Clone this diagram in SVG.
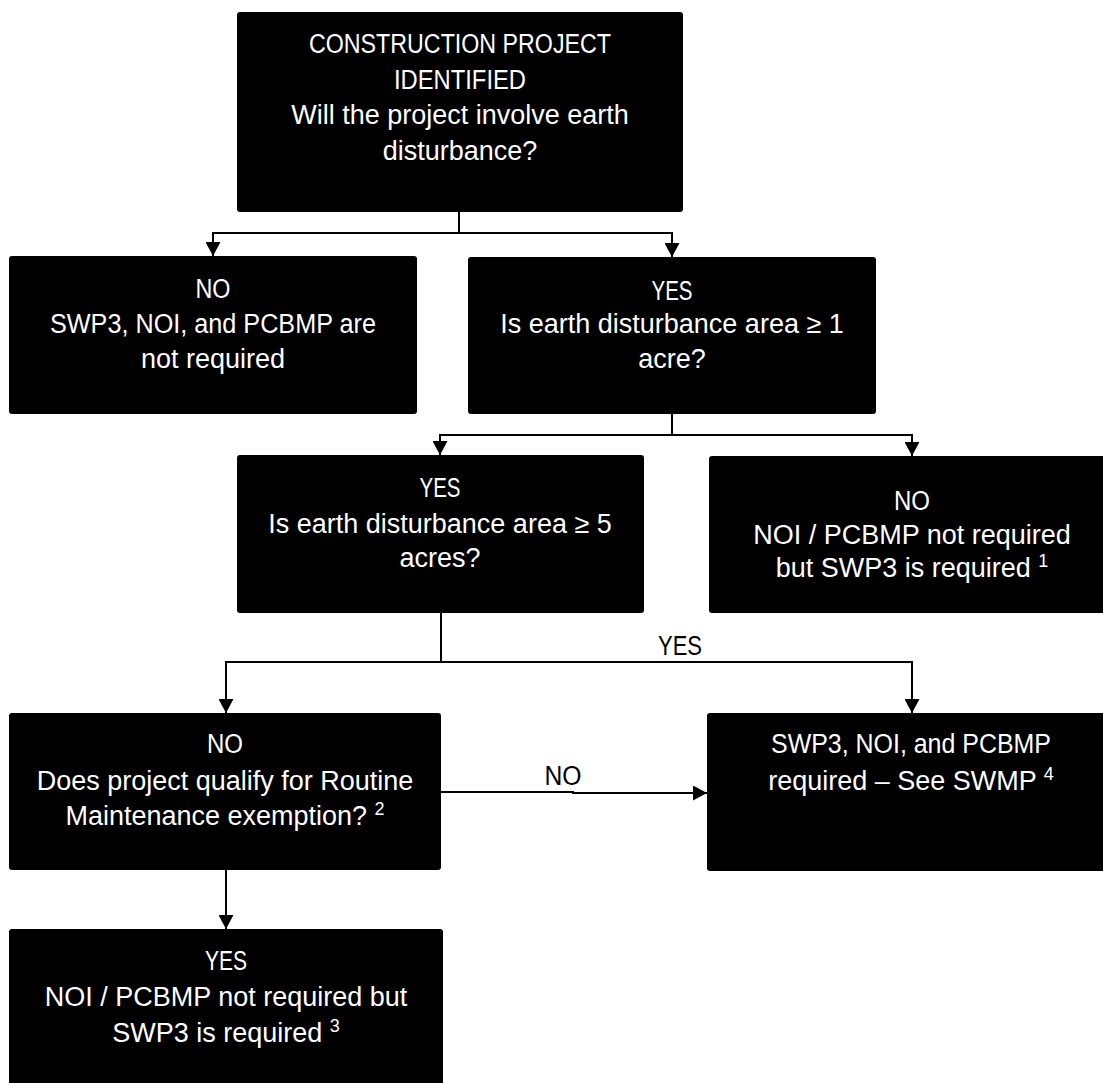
<svg xmlns="http://www.w3.org/2000/svg" width="1103" height="1083" viewBox="0 0 1103 1083">
  <style>
    .box { fill: #000; }
    .lbl { font-family: "Liberation Sans", Arial, sans-serif; font-size: 27px; fill: #fff; text-anchor: middle; }
    .edge-lbl { font-family: "Liberation Sans", Arial, sans-serif; font-size: 27px; fill: #000; text-anchor: middle; }
    .sup { font-size: 18px; }
    .wire { fill: none; stroke: #000; stroke-width: 2; marker-end: url(#arrow); }
  </style>
  <defs>
    <marker id="arrow" viewBox="0 0 14 15" refX="14" refY="7.5" markerWidth="14" markerHeight="15" markerUnits="userSpaceOnUse" orient="auto">
      <path d="M0,0 L14,7.5 L0,15 z" fill="#000"/>
    </marker>
  </defs>
  <rect width="1103" height="1083" fill="#fff"/>

  <!-- connectors -->
  <g id="connectors">
    <path class="wire" d="M459,212 V233 H213 V256"/>
    <path class="wire" d="M459,233 H672 V257"/>
    <path class="wire" d="M672,414 V435 H440 V455"/>
    <path class="wire" d="M672,435 H912 V456"/>
    <path class="wire" d="M441,613 V662 H226 V713"/>
    <path class="wire" d="M441,662 H912 V713"/>
    <text class="edge-lbl" x="680" y="655" textLength="44" lengthAdjust="spacingAndGlyphs">YES</text>
    <path class="wire" d="M441,792 H573 V793 H707"/>
    <text class="edge-lbl" x="563" y="785" textLength="37" lengthAdjust="spacingAndGlyphs">NO</text>
    <path class="wire" d="M226,870 V929"/>
  </g>

  <g id="node-start">
    <rect class="box" x="237" y="12" width="446" height="200" rx="3"/>
    <text class="lbl" x="460" y="53" textLength="302" lengthAdjust="spacingAndGlyphs">CONSTRUCTION PROJECT</text>
    <text class="lbl" x="460" y="89" textLength="132" lengthAdjust="spacingAndGlyphs">IDENTIFIED</text>
    <text class="lbl" x="460" y="124">Will the project involve earth</text>
    <text class="lbl" x="460" y="160">disturbance?</text>
  </g>

  <g id="node-no-disturbance">
    <rect class="box" x="9" y="256" width="408" height="158" rx="3"/>
    <text class="lbl" x="213" y="298" textLength="35" lengthAdjust="spacingAndGlyphs">NO</text>
    <text class="lbl" x="213" y="333" textLength="326" lengthAdjust="spacingAndGlyphs">SWP3, NOI, and PCBMP are</text>
    <text class="lbl" x="213" y="368">not required</text>
  </g>

  <g id="node-one-acre">
    <rect class="box" x="468" y="257" width="408" height="157" rx="3"/>
    <text class="lbl" x="672" y="300" textLength="41" lengthAdjust="spacingAndGlyphs">YES</text>
    <text class="lbl" x="672" y="333">Is earth disturbance area ≥ 1</text>
    <text class="lbl" x="672" y="368">acre?</text>
  </g>

  <g id="node-five-acres">
    <rect class="box" x="237" y="455" width="407" height="158" rx="3"/>
    <text class="lbl" x="440" y="497" textLength="41" lengthAdjust="spacingAndGlyphs">YES</text>
    <text class="lbl" x="440" y="533">Is earth disturbance area ≥ 5</text>
    <text class="lbl" x="440" y="567">acres?</text>
  </g>

  <g id="node-under-one-acre">
    <rect class="box" x="709" y="456" width="410" height="157" rx="3"/>
    <text class="lbl" x="912" y="510" textLength="36" lengthAdjust="spacingAndGlyphs">NO</text>
    <text class="lbl" x="912" y="544">NOI / PCBMP not required</text>
    <text class="lbl" x="912" y="577">but SWP3 is required <tspan class="sup" dy="-10">1</tspan></text>
  </g>

  <g id="node-routine-maintenance">
    <rect class="box" x="9" y="713" width="432" height="157" rx="3"/>
    <text class="lbl" x="225" y="753" textLength="36" lengthAdjust="spacingAndGlyphs">NO</text>
    <text class="lbl" x="225" y="790">Does project qualify for Routine</text>
    <text class="lbl" x="225" y="825">Maintenance exemption? <tspan class="sup" dy="-10">2</tspan></text>
  </g>

  <g id="node-full-permit">
    <rect class="box" x="707" y="713" width="410" height="158" rx="3"/>
    <text class="lbl" x="911" y="753" textLength="280" lengthAdjust="spacingAndGlyphs">SWP3, NOI, and PCBMP</text>
    <text class="lbl" x="911" y="790">required – See SWMP <tspan class="sup" dy="-10">4</tspan></text>
  </g>

  <g id="node-exempt">
    <rect class="box" x="9" y="929" width="434" height="170" rx="3"/>
    <text class="lbl" x="226" y="970" textLength="42" lengthAdjust="spacingAndGlyphs">YES</text>
    <text class="lbl" x="226" y="1006">NOI / PCBMP not required but</text>
    <text class="lbl" x="226" y="1042">SWP3 is required <tspan class="sup" dy="-10">3</tspan></text>
  </g>
</svg>
